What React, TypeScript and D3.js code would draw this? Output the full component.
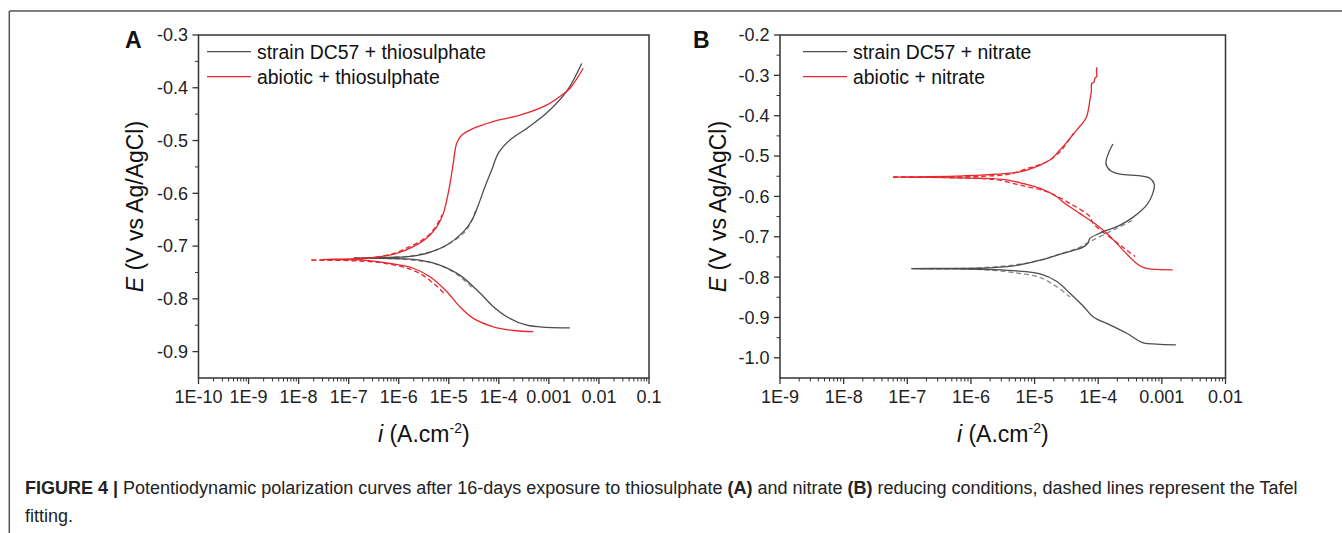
import React from 'react';
import * as d3 from 'd3';

type P = [number, number];

// ---------- Panel A (thiosulphate) ----------
const aXTicks = [1e-10, 1e-9, 1e-8, 1e-7, 1e-6, 1e-5, 1e-4, 1e-3, 1e-2, 1e-1];
const aXLabels = ['1E-10', '1E-9', '1E-8', '1E-7', '1E-6', '1E-5', '1E-4', '0.001', '0.01', '0.1'];
const aYTicks = [-0.3, -0.4, -0.5, -0.6, -0.7, -0.8, -0.9];
const aYLabels = ['-0.3', '-0.4', '-0.5', '-0.6', '-0.7', '-0.8', '-0.9'];

const aStrain: P[] = [
  [2.63e-3, -0.855], [9.1e-4, -0.854], [3.63e-4, -0.85], [1.45e-4, -0.834], [7.8e-5, -0.815],
  [4.2e-5, -0.789], [1.66e-5, -0.755], [6.6e-6, -0.736], [2.63e-6, -0.7265], [6.8e-7, -0.7235],
  [1.26e-7, -0.7225],
  [6.8e-7, -0.7215], [1.95e-6, -0.719], [4.2e-6, -0.712], [9.1e-6, -0.698], [1.95e-5, -0.673],
  [2.9e-5, -0.651], [3.9e-5, -0.622], [5.3e-5, -0.587], [7.2e-5, -0.556], [9.8e-5, -0.524],
  [1.67e-4, -0.499], [3.6e-4, -0.477], [9.0e-4, -0.448], [2.26e-3, -0.407], [4.52e-3, -0.354],
];
const aAbiotic: P[] = [
  [4.9e-4, -0.862], [1.95e-4, -0.86], [7.8e-5, -0.853], [3.1e-5, -0.837], [1.66e-5, -0.815],
  [9.1e-6, -0.786], [4.2e-6, -0.758], [1.95e-6, -0.742], [6.8e-7, -0.733], [1.95e-7, -0.7265],
  [2.8e-8, -0.7255],
  [1.95e-7, -0.7235], [4.3e-7, -0.72], [9.1e-7, -0.714], [1.95e-6, -0.701], [3.6e-6, -0.685],
  [5.8e-6, -0.663], [7.8e-6, -0.638], [9.1e-6, -0.613], [1.06e-5, -0.581], [1.23e-5, -0.543],
  [1.44e-5, -0.505], [1.81e-5, -0.49], [3.1e-5, -0.477], [7.7e-5, -0.464], [2.64e-4, -0.452],
  [9.0e-4, -0.433], [1.8e-3, -0.414], [2.64e-3, -0.401], [4.86e-3, -0.363],
];
const aStrainFitUp: P[] = [
  [1.3e-7, -0.7225], [7e-7, -0.7215], [1.6e-6, -0.719], [3.1e-6, -0.714], [5.8e-6, -0.707],
  [1.05e-5, -0.695], [1.95e-5, -0.676], [2.6e-5, -0.66], [3.6e-5, -0.628],
];
const aStrainFitDown: P[] = [
  [1.3e-7, -0.7225], [7e-7, -0.7235], [2e-6, -0.727], [4.2e-6, -0.731], [9.1e-6, -0.742],
  [1.66e-5, -0.758], [2.6e-5, -0.774], [3.2e-5, -0.782],
];
const aAbioticFitUp: P[] = [
  [1.8e-8, -0.7265], [1e-7, -0.7255], [3.5e-7, -0.721], [8e-7, -0.714], [1.5e-6, -0.703],
  [2.6e-6, -0.692], [4.0e-6, -0.679], [5.5e-6, -0.663], [6.6e-6, -0.65], [7.4e-6, -0.64],
];
const aAbioticFitDown: P[] = [
  [1.8e-8, -0.7265], [1e-7, -0.7275], [4e-7, -0.731], [9e-7, -0.737], [1.7e-6, -0.744],
  [3.0e-6, -0.755], [4.7e-6, -0.769], [6.6e-6, -0.781], [8.5e-6, -0.793],
];

// ---------- Panel B (nitrate) ----------
const bXTicks = [1e-9, 1e-8, 1e-7, 1e-6, 1e-5, 1e-4, 1e-3, 1e-2];
const bXLabels = ['1E-9', '1E-8', '1E-7', '1E-6', '1E-5', '1E-4', '0.001', '0.01'];
const bYTicks = [-0.2, -0.3, -0.4, -0.5, -0.6, -0.7, -0.8, -0.9, -1.0];
const bYLabels = ['-0.2', '-0.3', '-0.4', '-0.5', '-0.6', '-0.7', '-0.8', '-0.9', '-1.0'];

const bStrain: P[] = [
  [1.66e-3, -0.968], [8.3e-4, -0.966], [5.1e-4, -0.963], [2.8e-4, -0.939], [1.55e-4, -0.919],
  [8.3e-5, -0.898], [5.9e-5, -0.873], [3.6e-5, -0.84], [2.24e-5, -0.811], [1.23e-5, -0.792],
  [4.7e-6, -0.784], [1.38e-6, -0.7805], [4e-7, -0.7795], [1.17e-7, -0.779],
  [4e-7, -0.7785], [1.38e-6, -0.778], [4.7e-6, -0.772], [1.23e-5, -0.758], [2.8e-5, -0.741],
  [5.9e-5, -0.725], [6.9e-5, -0.716], [7.4e-5, -0.704], [1.07e-4, -0.691], [2.2e-4, -0.671],
  [3.5e-4, -0.652], [5.8e-4, -0.621], [7.1e-4, -0.595], [7.6e-4, -0.57], [6.5e-4, -0.555],
  [4.6e-4, -0.549], [2.2e-4, -0.545], [1.55e-4, -0.536], [1.32e-4, -0.518], [1.45e-4, -0.493],
  [1.7e-4, -0.47],
];
const bAbiotic: P[] = [
  [1.48e-3, -0.782], [8.3e-4, -0.781], [5.5e-4, -0.778], [4.0e-4, -0.766], [2.45e-4, -0.733],
  [1.55e-4, -0.7], [9.5e-5, -0.671], [5.1e-5, -0.642], [2.8e-5, -0.614], [2.24e-5, -0.601],
  [1.23e-5, -0.58], [6.6e-6, -0.568], [3.6e-6, -0.559], [1.38e-6, -0.555], [2.3e-7, -0.553],
  [6e-8, -0.552],
  [2.3e-7, -0.551], [7.6e-7, -0.549], [2.6e-6, -0.545], [5.9e-6, -0.539], [1.07e-5, -0.526],
  [1.74e-5, -0.51], [2.5e-5, -0.485], [3.6e-5, -0.456], [4.6e-5, -0.435], [5.9e-5, -0.415],
  [6.6e-5, -0.402], [7.1e-5, -0.38], [7.4e-5, -0.361], [7.8e-5, -0.34], [7.9e-5, -0.32],
  [8.5e-5, -0.318], [8.9e-5, -0.307], [9.5e-5, -0.303], [9.4e-5, -0.292], [9.5e-5, -0.28],
];
const bStrainFitUp: P[] = [
  [1.2e-7, -0.779], [1e-6, -0.778], [2.6e-6, -0.774], [5.9e-6, -0.768], [1.23e-5, -0.758],
  [2.24e-5, -0.745], [4.6e-5, -0.729], [7.4e-5, -0.712], [1.74e-4, -0.683], [3.5e-4, -0.659],
];
const bStrainFitDown: P[] = [
  [1.2e-7, -0.779], [1e-6, -0.7805], [2.6e-6, -0.784], [5.9e-6, -0.791], [1.23e-5, -0.801],
  [2.24e-5, -0.824], [3.6e-5, -0.849],
];
const bAbioticFitUp: P[] = [
  [6e-8, -0.552], [4e-7, -0.552], [1.5e-6, -0.55], [4e-6, -0.545], [7.6e-6, -0.531],
  [1.55e-5, -0.514], [2.5e-5, -0.49], [3.2e-5, -0.468], [4.1e-5, -0.444],
];
const bAbioticFitDown: P[] = [
  [6e-8, -0.552], [4e-7, -0.553], [1.5e-6, -0.556], [2.6e-6, -0.559], [5.9e-6, -0.572],
  [1.55e-5, -0.588], [3.2e-5, -0.613], [7.4e-5, -0.65], [8.3e-5, -0.667], [1.74e-4, -0.708],
  [2.8e-4, -0.733], [3.8e-4, -0.749],
];

const aLegend = ['strain DC57 + thiosulphate', 'abiotic + thiosulphate'];
const bLegend = ['strain DC57 + nitrate', 'abiotic + nitrate'];

const FONT = "'Liberation Sans', Arial, Helvetica, sans-serif";
const GREY = '#4d4d4d';
const RED = '#e8262c';
const GREY_FIT = '#8a8a8a';
const AXIS = '#333';

interface PanelCfg {
  letter: string;
  letterX: number;
  x0: number; x1: number; y0: number; y1: number;
  xDomain: [number, number];
  yDomain: [number, number];
  xTicks: number[]; xLabels: string[];
  yTicks: number[]; yLabels: string[];
  legend: string[];
  legendX0: number;
  solid: { data: P[]; color: string }[];
  dashed: { data: P[]; color: string }[];
  titleX: number;
}

function Panel({ c }: { c: PanelCfg }) {
  const x = d3.scaleLog().domain(c.xDomain).range([c.x0, c.x1]);
  const y = d3.scaleLinear().domain(c.yDomain).range([c.y1, c.y0]);
  const line = d3
    .line<P>()
    .x((d) => x(d[0]))
    .y((d) => y(d[1]))
    .curve(d3.curveCatmullRom.alpha(0.5));

  const minorX: number[] = [];
  const lo = Math.round(Math.log10(c.xDomain[0]));
  const hi = Math.round(Math.log10(c.xDomain[1]));
  for (let d = lo; d < hi; d++) for (let k = 2; k <= 9; k++) minorX.push(k * Math.pow(10, d));
  const minorY: number[] = [];
  for (let i = 0; i < c.yTicks.length; i++) {
    const v = c.yTicks[i] - 0.05;
    if (v > c.yDomain[0] + 1e-9) minorY.push(v);
  }
  const cx = (c.x0 + c.x1) / 2;
  const cy = (c.y0 + c.y1) / 2;

  return (
    <g>
      {c.dashed.map((s, i) => (
        <path key={'d' + i} d={line(s.data) || ''} fill="none" stroke={s.color} strokeWidth={1.3} strokeDasharray="5,3" />
      ))}
      {c.solid.map((s, i) => (
        <path key={'s' + i} d={line(s.data) || ''} fill="none" stroke={s.color} strokeWidth={1.3} />
      ))}
      <rect x={c.x0} y={c.y0} width={c.x1 - c.x0} height={c.y1 - c.y0} fill="none" stroke={AXIS} strokeWidth={1.5} />
      {c.xTicks.map((t, i) => (
        <g key={'xt' + i}>
          <line x1={x(t)} x2={x(t)} y1={c.y1} y2={c.y1 + 6} stroke={AXIS} strokeWidth={1.3} />
          <text x={x(t)} y={c.y1 + 25} textAnchor="middle" fontSize={18} fontFamily={FONT} fill="#222">
            {c.xLabels[i]}
          </text>
        </g>
      ))}
      {minorX.map((t, i) => (
        <line key={'xm' + i} x1={x(t)} x2={x(t)} y1={c.y1} y2={c.y1 + 3.5} stroke={AXIS} strokeWidth={1} />
      ))}
      {c.yTicks.map((t, i) => (
        <g key={'yt' + i}>
          <line x1={c.x0 - 6} x2={c.x0} y1={y(t)} y2={y(t)} stroke={AXIS} strokeWidth={1.3} />
          <text x={c.x0 - 10.5} y={y(t) + 6.4} textAnchor="end" fontSize={18} fontFamily={FONT} fill="#222">
            {c.yLabels[i]}
          </text>
        </g>
      ))}
      {minorY.map((t, i) => (
        <line key={'ym' + i} x1={c.x0 - 3.5} x2={c.x0} y1={y(t)} y2={y(t)} stroke={AXIS} strokeWidth={1} />
      ))}
      {c.legend.map((l, i) => (
        <g key={'lg' + i}>
          <line x1={c.legendX0} x2={c.legendX0 + 44} y1={51.7 + i * 25} y2={51.7 + i * 25} stroke={i === 0 ? GREY : RED} strokeWidth={1.3} />
          <text x={c.legendX0 + 50} y={58.5 + i * 25} fontSize={19.4} fontFamily={FONT} fill="#111">
            {l}
          </text>
        </g>
      ))}
      <text x={c.letterX} y={48} fontSize={23} fontWeight="bold" fontFamily={FONT} fill="#111">
        {c.letter}
      </text>
      <text transform={`translate(${c.titleX},${cy}) rotate(-90)`} textAnchor="middle" fontSize={23} fontFamily={FONT} fill="#111">
        <tspan fontStyle="italic">E</tspan> (V vs Ag/AgCl)
      </text>
      <text x={cx} y={442} textAnchor="middle" fontSize={23} fontFamily={FONT} fill="#111">
        <tspan fontStyle="italic">i</tspan> (A.cm<tspan fontSize={14} dy={-9}>-2</tspan><tspan dy={9}>)</tspan>
      </text>
    </g>
  );
}

export default function App() {
  const W = 1342;
  const H = 533;
  const panelA: PanelCfg = {
    letter: 'A', letterX: 125,
    x0: 198.5, x1: 649, y0: 35, y1: 378,
    xDomain: [1e-10, 0.1], yDomain: [-0.95, -0.3],
    xTicks: aXTicks, xLabels: aXLabels, yTicks: aYTicks, yLabels: aYLabels,
    legend: aLegend, legendX0: 207,
    solid: [{ data: aStrain, color: GREY }, { data: aAbiotic, color: RED }],
    dashed: [
      { data: aStrainFitUp, color: GREY_FIT }, { data: aStrainFitDown, color: GREY_FIT },
      { data: aAbioticFitUp, color: RED }, { data: aAbioticFitDown, color: RED },
    ],
    titleX: 143,
  };
  const panelB: PanelCfg = {
    letter: 'B', letterX: 693,
    x0: 780, x1: 1225.5, y0: 35, y1: 378,
    xDomain: [1e-9, 1e-2], yDomain: [-1.05, -0.2],
    xTicks: bXTicks, xLabels: bXLabels, yTicks: bYTicks, yLabels: bYLabels,
    legend: bLegend, legendX0: 803,
    solid: [{ data: bStrain, color: GREY }, { data: bAbiotic, color: RED }],
    dashed: [
      { data: bStrainFitUp, color: GREY_FIT }, { data: bStrainFitDown, color: GREY_FIT },
      { data: bAbioticFitUp, color: RED }, { data: bAbioticFitDown, color: RED },
    ],
    titleX: 726,
  };
  return (
    <svg width={W} height={H} style={{ position: 'absolute', left: 0, top: 0, background: '#fff' }}>
      <rect x={0} y={0} width={W} height={H} fill="#fff" />
      <line x1={9.3} x2={W} y1={11} y2={11} stroke="#555" strokeWidth={1.5} />
      <line x1={9.3} x2={9.3} y1={11} y2={H} stroke="#555" strokeWidth={1.5} />
      <Panel c={panelA} />
      <Panel c={panelB} />
      <text x={25} y={494} fontSize={18} fontFamily={FONT} fill="#222">
        <tspan fontWeight="bold">FIGURE 4 | </tspan>
        Potentiodynamic polarization curves after 16-days exposure to thiosulphate{' '}
        <tspan fontWeight="bold">(A)</tspan> and nitrate <tspan fontWeight="bold">(B)</tspan> reducing conditions, dashed lines represent the Tafel
      </text>
      <text x={25} y={522} fontSize={18} fontFamily={FONT} fill="#222">
        fitting.
      </text>
    </svg>
  );
}
